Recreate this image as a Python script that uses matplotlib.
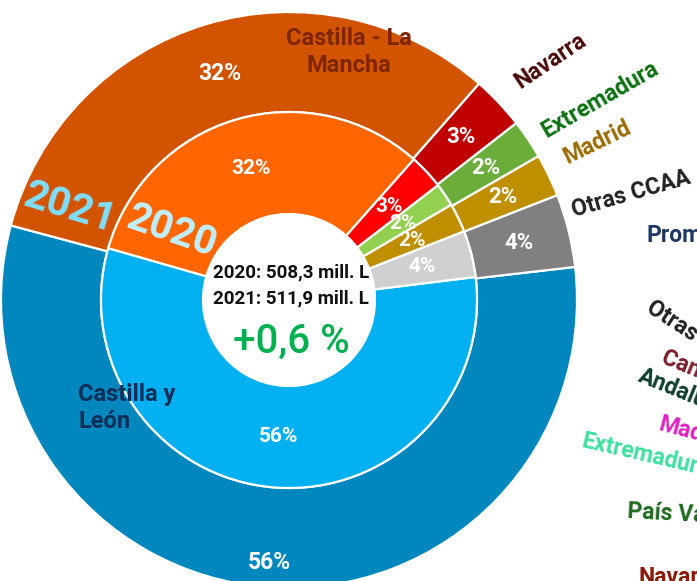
import numpy as np
import matplotlib
matplotlib.use('Agg')
import matplotlib.pyplot as plt

# ---------------- data ----------------
regions = ['Castilla y León', 'Otras CCAA', 'Madrid', 'Extremadura', 'Navarra', 'Castilla - La Mancha']
share_2020 = [56.4, 4.0, 2.5, 2.0, 3.0, 32.1]
share_2021 = [56.0, 4.1, 2.4, 2.2, 3.0, 32.3]
pct_labels_2020 = ['56%', '4%', '2%', '2%', '3%', '32%']
pct_labels_2021 = ['56%', '4%', '2%', '2%', '3%', '32%']
colors_2020 = ['#00B0F0', '#D0D0D0', '#BF8F00', '#92D050', '#FF0000', '#FF6600']
colors_2021 = ['#0087BD', '#808080', '#BF8F00', '#6BAD3A', '#C00000', '#D35400']
total_2020 = '508,3'
total_2021 = '511,9'
change = '+0,6 %'
year_labels = ['2021', '2020']

# labels belonging to a neighbouring chart (clipped at the right edge, as in the reference)
side_labels = ['Promedio', 'Otras CCAA', 'Canarias', 'Andalucía', 'Madrid',
               'Extremadura', 'País Vasco', 'Navarra']
side_colors = ['#1F3864', '#222222', '#7B1F2A', '#0F3D2E', '#E020C0',
               '#3FE0A0', '#1E6B1E', '#8B1A0A']

FONT = ['Roboto', 'DejaVu Sans']
plt.rcParams['font.family'] = FONT

W, H = 697, 581
fig = plt.figure(figsize=(W / 100, H / 100), dpi=100)
ax = fig.add_axes([0, 0, 1, 1])

cx, cy = 289, H - 300   # centre in data (pixel) coords
R_out, R_mid, R_hole = 288, 188, 86

w_out, _ = ax.pie(share_2021, radius=R_out, center=(cx, cy), startangle=165,
                  counterclock=True, colors=colors_2021,
                  wedgeprops=dict(width=R_out - R_mid, edgecolor='white', linewidth=1.6))
w_in, _ = ax.pie(share_2020, radius=R_mid, center=(cx, cy), startangle=164,
                 counterclock=True, colors=colors_2020,
                 wedgeprops=dict(width=R_mid - R_hole, edgecolor='white', linewidth=1.6))

ax.set_xlim(0, W)
ax.set_ylim(0, H)
ax.set_aspect('equal')
ax.axis('off')


def polar(r, ang):
    a = np.deg2rad(ang)
    return cx + r * np.cos(a), cy + r * np.sin(a)


# percentage labels
for i, w in enumerate(w_out):
    mid = (w.theta1 + w.theta2) / 2
    r = 263 if i == 0 else 237
    x, y = polar(r, mid)
    ax.text(x, y, pct_labels_2021[i], color='white', fontsize=16.5 if i in (0, 5) else 16,
            fontweight='bold', ha='center', va='center')
for i, w in enumerate(w_in):
    mid = (w.theta1 + w.theta2) / 2
    x, y = polar(137, mid)
    ax.text(x, y, pct_labels_2020[i], color='white', fontsize=15 if i in (0, 5) else 15,
            fontweight='bold', ha='center', va='center')

# category labels
ax.text(349, H - 52, 'Castilla - La\nMancha', color='#7F2500', fontsize=17,
        fontweight='bold', ha='center', va='center', linespacing=1.2)
ax.text(78, H - 408, 'Castilla y\nLeón', color='#0C2E57', fontsize=17,
        fontweight='bold', ha='left', va='center', linespacing=1.2)
ax.text(551, H - 61, 'Navarra', color='#4A0A0A', fontsize=16.5, fontweight='bold',
        ha='center', va='center', rotation=34, rotation_mode='anchor')
ax.text(600, H - 100, 'Extremadura', color='#0A7010', fontsize=16.5, fontweight='bold',
        ha='center', va='center', rotation=30, rotation_mode='anchor')
ax.text(597, H - 142, 'Madrid', color='#9C6A00', fontsize=16.5, fontweight='bold',
        ha='center', va='center', rotation=26, rotation_mode='anchor')
ax.text(631, H - 194, 'Otras CCAA', color='#222222', fontsize=16.5, fontweight='bold',
        ha='center', va='center', rotation=16, rotation_mode='anchor')

# year labels
ax.text(70, H - 208, year_labels[0], color='#7FDFFF', fontsize=29.5, fontweight='bold',
        ha='center', va='center', rotation=-17, rotation_mode='anchor')
ax.text(172, H - 232, year_labels[1], color='#C0F0FF', fontsize=29, fontweight='bold',
        ha='center', va='center', rotation=-19, rotation_mode='anchor')

# centre texts
ax.text(cx + 2, H - 272, f'2020: {total_2020} mill. L', color='#111111', fontsize=13.5,
        fontweight='bold', ha='center', va='center')
ax.text(cx + 2, H - 298, f'2021: {total_2021} mill. L', color='#111111', fontsize=13.5,
        fontweight='bold', ha='center', va='center')
ax.text(cx + 2, H - 342, change, color='#00B050', fontsize=29,
        fontweight='medium', ha='center', va='center')

# neighbouring chart labels, clipped at right edge
side_pos = [(647, 236, 0), (649, 306, -33), (662, 357, -22), (639, 375, -22),
            (659, 424, -15), (582, 441, -13), (627, 512, -3), (639, 577, 0)]
for (x, y, rot), txt, col in zip(side_pos, side_labels, side_colors):
    ax.text(x, H - y, txt, color=col, fontsize=16.5, fontweight='bold', ha='left',
            va='center', rotation=rot, rotation_mode='anchor', clip_on=True)

fig.savefig('out.png', dpi=100)
